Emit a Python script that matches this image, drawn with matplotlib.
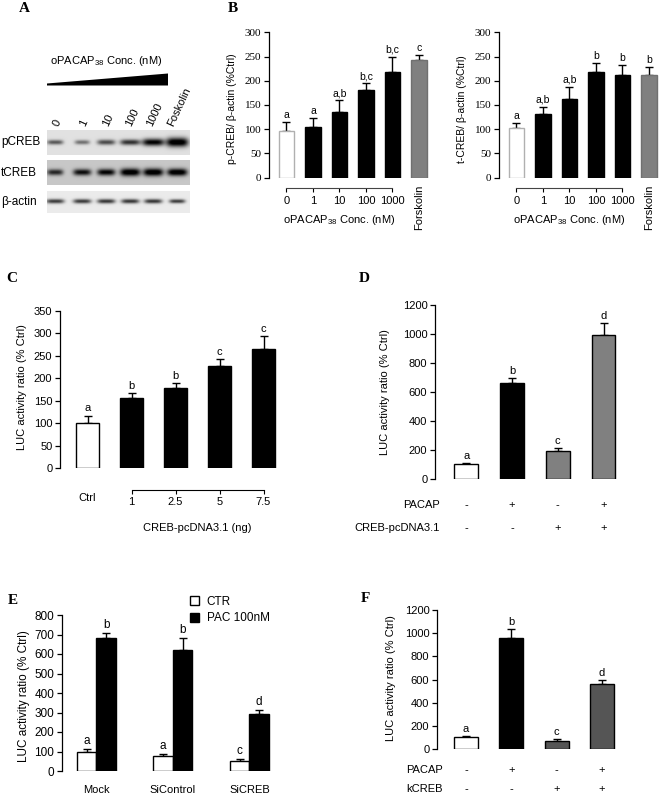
import numpy as np
import matplotlib
matplotlib.use('Agg')
import matplotlib.pyplot as plt
from matplotlib.patches import Patch
from matplotlib.transforms import blended_transform_factory as blend

plt.rcParams['font.family'] = ['Liberation Sans', 'DejaVu Sans']
plt.rcParams['mathtext.default'] = 'regular'

# ---------------- data ----------------
blot_lanes = ['0', '1', '10', '100', '1000', 'Foskolin']
blot_rows = ['pCREB', 'tCREB', 'β-actin']
pcreb_band = [0.55, 0.45, 0.60, 0.70, 0.90, 1.00]
tcreb_band = [0.65, 0.75, 0.80, 0.90, 0.90, 0.90]
actin_band = [0.70, 0.70, 0.72, 0.72, 0.72, 0.70]

b_cats = ['0', '1', '10', '100', '1000']
b_extra = 'Forskolin'
pcreb_vals = [97, 105, 136, 180, 218, 242]
pcreb_err = [17, 18, 24, 15, 32, 12]
pcreb_sig = ['a', 'a', 'a,b', 'b,c', 'b,c', 'c']
tcreb_vals = [103, 132, 163, 218, 212, 211]
tcreb_err = [10, 14, 25, 19, 21, 17]
tcreb_sig = ['a', 'a,b', 'a,b', 'b', 'b', 'b']

c_ctrl = 'Ctrl'
c_doses = ['1', '2.5', '5', '7.5']
c_vals = [100, 157, 178, 228, 265]
c_err = [17, 10, 12, 14, 30]
c_sig = ['a', 'b', 'b', 'c', 'c']

d_pacap = ['-', '+', '-', '+']
d_creb = ['-', '-', '+', '+']
d_vals = [105, 660, 193, 990]
d_err = [8, 35, 22, 85]
d_sig = ['a', 'b', 'c', 'd']

e_groups = ['Mock', 'SiControl', 'SiCREB']
e_ctr = [100, 79, 51]
e_ctr_err = [12, 6, 12]
e_pac = [680, 620, 292]
e_pac_err = [28, 60, 22]
e_ctr_sig = ['a', 'a', 'c']
e_pac_sig = ['b', 'b', 'd']

f_pacap = ['-', '+', '-', '+']
f_kcreb = ['-', '-', '+', '+']
f_vals = [100, 957, 72, 563]
f_err = [9, 77, 14, 35]
f_sig = ['a', 'b', 'c', 'd']

# ---------------- figure ----------------
W, H = 660, 795
fig = plt.figure(figsize=(W / 100, H / 100), dpi=100)
fig.patch.set_facecolor('white')

ov = fig.add_axes([0, 0, 1, 1])
ov.axis('off')


def px_axes(x0, y0, x1, y1):
    ax = fig.add_axes([x0 / W, 1 - y1 / H, (x1 - x0) / W, (y1 - y0) / H])
    ax.patch.set_alpha(0)
    for s in ['top', 'right', 'bottom']:
        ax.spines[s].set_visible(False)
    ax.spines['left'].set_linewidth(0.9)
    ax.tick_params(axis='y', direction='out', length=3.5, width=0.9, labelsize=8, pad=2)
    return ax


def bars(ax, x, vals, err, colors, edges, width, letters, fs=7.5):
    ax.bar(x, vals, width, color=colors, edgecolor=edges, linewidth=1, zorder=2)
    ax.errorbar(x, vals, yerr=[np.zeros(len(vals)), err], fmt='none', ecolor='black',
                elinewidth=1, capsize=3, capthick=1, zorder=1)
    for xi, v, e, l in zip(x, vals, err, letters):
        ax.annotate(l, (xi, v + e), xytext=(0, 1.5), textcoords='offset points',
                    ha='center', va='bottom', fontsize=fs)


def ylab(x, y, s, fs=8):
    ov.text(x, y, s, rotation=90, ha='center', va='center', fontsize=fs)


def letter(x, y, s):
    ov.text(x, y, s, family=['Liberation Serif'], fontweight='bold', fontsize=11,
            ha='center', va='center')


# ---------------- Panel A (blot) ----------------
letter(24, 9, 'A')
ov.text(106, 61, 'oPACAP$_{38}$ Conc. (nM)', ha='center', va='center', fontsize=8)
ov.fill([47, 47, 168, 168], [85.5, 83.5, 73.5, 85.5], color='black', lw=0)
lane_x = [55, 82, 106, 130, 153, 177]
for lx, lab in zip(lane_x, blot_lanes):
    ov.text(lx + 2, 128, lab, rotation=65, ha='center', va='bottom', fontsize=8)


def blot_strip(darkness, half_w, half_h, bg, x0, x1, y0, y1, cy):
    xs = np.arange(x0, x1, 0.5)
    ys = np.arange(y0, y1, 0.5)
    X, Y = np.meshgrid(xs, ys)
    img = np.full_like(X, bg, dtype=float)
    for cx, d, wx, wy in zip(lane_x, darkness, half_w, half_h):
        img += d * np.exp(-((X - cx) / wx) ** 4) * np.exp(-((Y - cy) / wy) ** 2)
    img = np.clip(img, 0, 1)
    ov.imshow(img, extent=(x0, x1, y1, y0), cmap='gray_r', vmin=0, vmax=1,
              aspect='auto', interpolation='bilinear')


blot_strip(pcreb_band, [8, 7.5, 9, 10, 11, 11], [2.3, 2.2, 2.6, 2.8, 3.6, 4.5], 0.12, 47, 190, 130, 155, 142)
blot_strip(tcreb_band, [8, 9, 9, 10, 10, 10], [3.0, 3.2, 3.3, 3.8, 3.8, 3.6], 0.22, 47, 190, 160, 185, 172)
blot_strip(actin_band, [9, 9, 9, 9, 9, 8], [2.2, 2.2, 2.2, 2.2, 2.2, 2.0], 0.08, 47, 190, 191, 213, 201)
for lab, yy in zip(blot_rows, [142, 173, 202]):
    ov.text(1, yy, lab, ha='left', va='center', fontsize=8.5)

# ---------------- Panel B ----------------
letter(233, 9, 'B')


def panel_b(x0, x1, vals, err, sig, ylabel, ylx):
    ax = px_axes(x0, 32.3, x1, 177.7)
    x = np.arange(len(vals))
    ax.set_xlim(-0.66, -0.66 + (x1 - x0) / 26.5)
    ax.set_ylim(0, 300)
    ax.set_yticks(range(0, 301, 50))
    for tl in ax.get_yticklabels():
        tl.set_family('Liberation Serif')
        tl.set_fontsize(8)
    colors = ['white'] + ['black'] * 4 + ['#808080']
    edges = ['#b0b0b0'] + ['black'] * 4 + ['#707070']
    bars(ax, x, vals, err, colors, edges, 0.6, sig)
    ax.spines['bottom'].set_visible(True)
    ax.spines['bottom'].set_linewidth(0.8)
    ax.spines['bottom'].set_color('#444444')
    ax.spines['bottom'].set_position(('outward', 7.5))
    ax.spines['bottom'].set_bounds(0, 4)
    ax.set_xticks(range(len(b_cats)))
    ax.set_xticklabels(b_cats)
    ax.tick_params(axis='x', direction='out', length=3, width=0.8, labelsize=8, pad=3)
    tr = blend(ax.transData, ov.transData)
    ax.text(5, 207, b_extra, transform=tr, rotation=90, ha='center', va='center', fontsize=8)
    ax.text(2, 220, 'oPACAP$_{38}$ Conc. (nM)', transform=tr, ha='center', va='center', fontsize=8)
    ylab(ylx, 109, ylabel, fs=7.5)


panel_b(269, 432, pcreb_vals, pcreb_err, pcreb_sig, 'p-CREB/ β-actin (%Ctrl)', 232)
panel_b(499, 660, tcreb_vals, tcreb_err, tcreb_sig, 't-CREB/ β-actin (%Ctrl)', 462)

# ---------------- Panel C ----------------
letter(12, 278, 'C')
axc = px_axes(60, 311, 290, 468)
xc = np.arange(len(c_vals))
axc.set_xlim(-0.625, -0.625 + 230 / 44)
axc.set_ylim(0, 350)
axc.set_yticks(range(0, 351, 50))
bars(axc, xc, c_vals, c_err, ['white'] + ['black'] * 4, 'black', 0.53, c_sig, fs=8)
axc.spines['bottom'].set_visible(True)
axc.spines['bottom'].set_linewidth(0.8)
axc.spines['bottom'].set_position(('outward', 16))
axc.spines['bottom'].set_bounds(1, 4)
axc.set_xticks(xc[1:])
axc.set_xticklabels(c_doses)
axc.tick_params(axis='x', direction='out', length=3, width=0.8, labelsize=8, pad=2)
trc = blend(axc.transData, ov.transData)
axc.text(0, 498, c_ctrl, transform=trc, ha='center', va='center', fontsize=8)
axc.text(2.5, 528, 'CREB-pcDNA3.1 (ng)', transform=trc, ha='center', va='center', fontsize=8)
ylab(22, 387, 'LUC activity ratio (% Ctrl)')

# ---------------- Panel D ----------------
letter(364, 278, 'D')
axd = px_axes(435, 305, 650, 479)
xd = np.arange(len(d_vals))
axd.set_xlim(-0.68, -0.68 + 215 / 45.8)
axd.set_ylim(0, 1200)
axd.set_yticks(range(0, 1201, 200))
axd.set_xticks([])
bars(axd, xd, d_vals, d_err, ['white', 'black', '#808080', '#808080'], 'black', 0.52, d_sig, fs=8)
trd = blend(axd.transData, ov.transData)
for xi, p, c in zip(xd, d_pacap, d_creb):
    axd.text(xi, 505, p, transform=trd, ha='center', va='center', fontsize=8)
    axd.text(xi, 528, c, transform=trd, ha='center', va='center', fontsize=8)
ov.text(440, 505, 'PACAP', ha='right', va='center', fontsize=8)
ov.text(440, 528, 'CREB-pcDNA3.1', ha='right', va='center', fontsize=8)
ylab(385, 392, 'LUC activity ratio (% Ctrl)')

# ---------------- Panel E ----------------
letter(13, 600, 'E')
axe = px_axes(62, 615, 290, 771)
xe = np.arange(len(e_groups))
axe.set_xlim(-0.45, -0.45 + 228 / 76.5)
axe.set_ylim(0, 800)
axe.set_yticks(range(0, 801, 100))
axe.set_xticks([])
bw = 0.255
bars(axe, xe - bw / 2, e_ctr, e_ctr_err, 'white', 'black', bw, e_ctr_sig, fs=8.5)
bars(axe, xe + bw / 2, e_pac, e_pac_err, 'black', 'black', bw, e_pac_sig, fs=8.5)
axe.tick_params(axis='y', labelsize=8.5)
tre = blend(axe.transData, ov.transData)
for xi, g in zip(xe, e_groups):
    axe.text(xi, 790, g, transform=tre, ha='center', va='center', fontsize=8)
leg = axe.legend(handles=[Patch(facecolor='white', edgecolor='black', lw=1, label='CTR'),
                          Patch(facecolor='black', edgecolor='black', lw=1, label='PAC 100nM')],
                 loc='upper left', bbox_to_anchor=(190 / W, 1 - 596 / H),
                 bbox_transform=fig.transFigure, frameon=False, fontsize=8.5,
                 handlelength=0.8, handleheight=0.8, handletextpad=0.6,
                 labelspacing=0.35, borderpad=0, borderaxespad=0)
ylab(24, 696, 'LUC activity ratio (% Ctrl)', fs=8.5)

# ---------------- Panel F ----------------
letter(365, 598, 'F')
axf = px_axes(437, 610, 650, 749)
xf = np.arange(len(f_vals))
axf.set_xlim(-0.64, -0.64 + 213 / 45.3)
axf.set_ylim(0, 1200)
axf.set_yticks(range(0, 1201, 200))
axf.set_xticks([])
bars(axf, xf, f_vals, f_err, ['white', 'black', '#555555', '#555555'], 'black', 0.53, f_sig, fs=8)
trf = blend(axf.transData, ov.transData)
for xi, p, k in zip(xf, f_pacap, f_kcreb):
    axf.text(xi, 770, p, transform=trf, ha='center', va='center', fontsize=8)
    axf.text(xi, 789, k, transform=trf, ha='center', va='center', fontsize=8)
ov.text(406, 770, 'PACAP', ha='left', va='center', fontsize=8)
ov.text(406, 789, 'kCREB', ha='left', va='center', fontsize=8)
ylab(391, 678, 'LUC activity ratio (% Ctrl)')

ov.set_xlim(0, W)
ov.set_ylim(H, 0)

fig.savefig('out.png', dpi=100, facecolor='white')
